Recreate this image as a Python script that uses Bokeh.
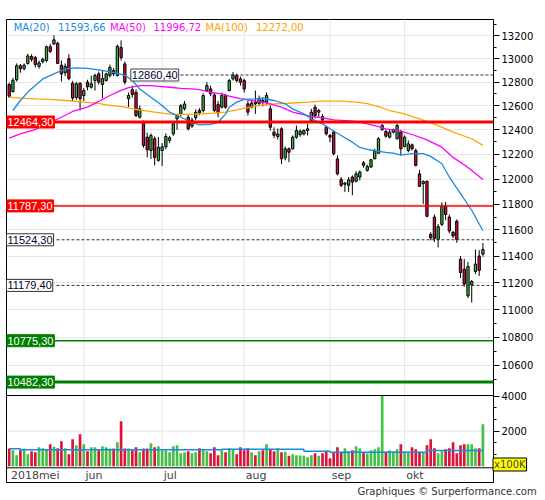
import math
from bokeh.plotting import figure
from bokeh.models import (ColumnDataSource, FixedTicker, Span, Label, Range1d,
                          LinearScale, Title, LogAxis)
from bokeh.embed import file_html
from bokeh.resources import INLINE

# ---------------- data ----------------
opens = [12780, 12720, 12820, 12940, 12915, 12960, 13020, 13010, 12935, 12975,
         12985, 13105, 13130, 13135, 12945, 12880, 13000, 12790, 12670, 12790,
         12686, 12800, 12756, 12813, 12870, 12780, 12813, 12856, 12900, 12856,
         13098, 12956, 12660, 12735, 12712, 12504, 12462, 12339, 12230, 12326,
         12150, 12230, 12260, 12312, 12366, 12491, 12530, 12574, 12504, 12430,
         12500, 12560, 12560, 12728, 12742, 12690, 12610, 12588, 12686, 12728,
         12827, 12856, 12827, 12813, 12616, 12588, 12630, 12619, 12644, 12630,
         12574, 12380, 12345, 12408, 12170, 12244, 12244, 12339, 12360, 12366,
         12394, 12477, 12588, 12546, 12510, 12421, 12353, 12380, 12162, 11997,
         11958, 11950, 12016, 11983, 12016, 12130, 12069, 12096, 12162, 12208,
         12400, 12386, 12339, 12380, 12326, 12380, 12263, 12230, 12276, 12230,
         12041, 11963, 11981, 11565, 11700, 11527, 11643, 11785, 11700, 11583,
         11668, 11376, 11301, 11102, 11183, 11283, 11400, 11415]
highs = [12795, 12835, 12960, 12955, 12960, 13045, 13040, 13025, 12985, 13010,
         13115, 13130, 13205, 13150, 12985, 12960, 13040, 12810, 12800, 12800,
         12750, 12820, 12856, 12873, 12890, 12900, 12881, 12950, 12920, 13125,
         13160, 12976, 12711, 12770, 12737, 12602, 12477, 12377, 12370, 12345,
         12340, 12290, 12370, 12350, 12470, 12530, 12615, 12640, 12530, 12500,
         12570, 12580, 12704, 12799, 12770, 12710, 12640, 12711, 12700, 12827,
         12885, 12873, 12847, 12830, 12644, 12644, 12728, 12686, 12669, 12712,
         12602, 12420, 12410, 12421, 12263, 12255, 12353, 12435, 12402, 12402,
         12449, 12574, 12610, 12574, 12532, 12435, 12366, 12394, 12190, 12016,
         11976, 12016, 12029, 12062, 12069, 12145, 12115, 12162, 12244, 12339,
         12449, 12402, 12402, 12410, 12449, 12400, 12353, 12312, 12287, 12246,
         12073, 11989, 11989, 11583, 11720, 11645, 11816, 11818, 11720, 11590,
         11681, 11400, 11378, 11355, 11220, 11450, 11445, 11500]
lows = [12665, 12710, 12805, 12880, 12900, 12950, 12975, 12925, 12915, 12960,
        12970, 13050, 13120, 12955, 12805, 12850, 12815, 12640, 12650, 12560,
        12640, 12730, 12744, 12728, 12780, 12665, 12805, 12839, 12850, 12847,
        12985, 12779, 12590, 12669, 12504, 12493, 12252, 12174, 12162, 12109,
        12140, 12105, 12240, 12290, 12350, 12400, 12510, 12560, 12395, 12415,
        12480, 12520, 12543, 12720, 12680, 12545, 12504, 12577, 12574, 12720,
        12813, 12796, 12770, 12711, 12518, 12577, 12532, 12602, 12594, 12602,
        12394, 12330, 12320, 12121, 12150, 12135, 12238, 12326, 12343, 12353,
        12353, 12462, 12493, 12504, 12462, 12353, 12298, 12190, 12029, 11936,
        11897, 11897, 11871, 11973, 11989, 12090, 12060, 12091, 12162, 12204,
        12394, 12335, 12328, 12370, 12320, 12190, 12255, 12216, 12230, 12101,
        11936, 11803, 11698, 11521, 11506, 11466, 11630, 11675, 11575, 11537,
        11501, 11235, 11170, 11085, 11052, 11265, 11250, 11395]
closes = [12680, 12815, 12940, 12915, 12945, 13025, 12995, 12950, 12965, 12995,
          13105, 13065, 13165, 12960, 12870, 12935, 12830, 12665, 12785, 12660,
          12728, 12760, 12785, 12856, 12800, 12830, 12870, 12926, 12870, 13107,
          13011, 12800, 12686, 12695, 12518, 12574, 12271, 12236, 12353, 12174,
          12256, 12260, 12345, 12334, 12449, 12518, 12600, 12615, 12408, 12480,
          12545, 12541, 12686, 12770, 12700, 12561, 12540, 12686, 12588, 12813,
          12860.4, 12813, 12799, 12742, 12546, 12621, 12616, 12661, 12627, 12686,
          12421, 12355, 12365, 12163, 12244, 12216, 12339, 12394, 12388, 12394,
          12408, 12546, 12518, 12560, 12482, 12366, 12339, 12204, 12041, 11950,
          11968, 11994, 11976, 12041, 12056, 12110, 12100, 12155, 12224, 12326,
          12435, 12347, 12380, 12400, 12435, 12244, 12339, 12284, 12244, 12109,
          11942, 11981, 11706, 11539, 11535, 11625, 11785, 11720, 11592, 11554,
          11527, 11276, 11190, 11321, 11208, 11340, 11291, 11450]
volumes = [1010, 914, 629, 914, 1010, 686, 857, 800, 1086, 1029,
           952, 1257, 1105, 1029, 1429, 1029, 686, 1543, 1200, 1829,
           1257, 857, 1086, 1086, 914, 1143, 1086, 1010, 1010, 1371,
           2571, 1010, 1010, 914, 1086, 800, 1010, 1010, 1314, 1086,
           1143, 914, 914, 800, 1143, 1200, 743, 800, 857, 743,
           800, 1029, 914, 857, 743, 1086, 629, 914, 800, 1029,
           971, 686, 1086, 914, 1029, 800, 629, 857, 914, 1257,
           952, 857, 1029, 800, 819, 590, 686, 629, 610, 590,
           514, 629, 743, 590, 743, 876, 457, 800, 1086, 800,
           1029, 857, 914, 1143, 1029, 800, 724, 914, 971, 1086,
           4019, 819, 914, 857, 971, 1257, 819, 819, 1086, 971,
           819, 800, 1200, 1543, 1029, 743, 857, 971, 1029, 1371,
           743, 1200, 1257, 1257, 1257, 1029, 1029, 2400]

month_start = [20, 41, 63, 86, 106]
month_names = ["jun", "jul", "aug", "sep", "okt"]
first_label = "2018mei"

ma20_x = [1, 3, 5, 7, 9, 12, 14, 16, 18, 21, 24, 26, 29, 31, 33, 35, 38, 41, 43, 46,
          49, 51, 54, 56, 58, 59, 61, 63, 66, 68, 71, 74, 76, 79, 81, 84, 86, 89, 92, 94,
          96, 98, 101, 103, 105, 108, 111, 113, 116, 118, 121, 124, 127]
ma20_y = [12560, 12644, 12715, 12770, 12827, 12870, 12899, 12918, 12922, 12918,
          12905, 12893, 12875, 12858, 12813, 12742, 12672, 12602, 12546, 12504,
          12462, 12441, 12444, 12462, 12530, 12588, 12630, 12653, 12658, 12663,
          12644, 12616, 12574, 12532, 12491, 12449, 12408, 12353, 12298, 12255,
          12240, 12228, 12215, 12208, 12192, 12204, 12204, 12182, 12123, 12016,
          11884, 11753, 11594]
ma50_x = [0, 3, 7, 10, 14, 17, 21, 24, 27, 30, 32, 35, 38, 41, 43, 46, 49, 51, 54, 57,
          59, 62, 66, 69, 73, 76, 80, 84, 87, 92, 94, 96, 98, 101, 105, 108, 112, 116,
          119, 123, 127]
ma50_y = [12331, 12367, 12402, 12449, 12504, 12552, 12588, 12636, 12686, 12730,
          12752, 12770, 12770, 12762, 12756, 12747, 12742, 12736, 12713, 12700,
          12680, 12660, 12638, 12624, 12588, 12546, 12518, 12499, 12482, 12471,
          12463, 12449, 12435, 12408, 12388, 12361, 12317, 12257, 12174, 12093,
          11997]
ma100_x = [0, 3, 7, 11, 16, 20, 24, 26, 29, 31, 33, 37, 41, 44, 48, 51, 55, 58, 61, 63,
           67, 71, 75, 80, 84, 89, 93, 96, 99, 102, 106, 110, 115, 119, 124, 127]
ma100_y = [12672, 12664, 12658, 12653, 12642, 12630, 12619, 12608, 12596, 12588,
           12574, 12554, 12538, 12527, 12527, 12532, 12538, 12546, 12566, 12580,
           12602, 12616, 12621, 12630, 12638, 12638, 12630, 12618, 12593, 12560,
           12532, 12491, 12435, 12380, 12326, 12272]
ma_names = ["MA(20)", "MA(50)", "MA(100)"]
ma_last = ["11593,66", "11996,72", "12272,00"]

vol_ma_x = [0, 3, 57, 79, 86, 112, 127]
vol_ma_y = [994, 937, 971, 857, 800, 897, 897]

price_ticks = [10600, 10800, 11000, 11200, 11400, 11600, 11800, 12000,
               12200, 12400, 12600, 12800, 13000, 13200]
price_tick_labels = ["10600", "10800", "11000", "11200", "11400", "11600", "11800",
                     "12000", "12200", "12400", "12600", "12800", "13000", "13200"]
price_minor = [10500, 10700, 10900, 11100, 11300, 11500, 11700, 11900,
               12100, 12300, 12500, 12700, 12900, 13100, 13300]
vol_ticks = [2000, 4000]
vol_tick_labels = ["2000", "4000"]
vol_minor = [667, 1333, 2667, 3333]
vol_unit = "x100K"
footer = "Graphiques \u00a9 Surperformance.com"

levels = [12464.30, 11787.30, 11524.30, 11179.40, 10775.30, 10482.30]
marker_level = 12860.40

# ---------------- styling / geometry ----------------
FONT = "DejaVu Sans"
LFONT = "Liberation Sans"
GRID = "#e6e6e6"
UP, DOWN = "#3cb043", "#d0103a"
VUP, VDOWN = "#44c044", "#dc143c"
C20, C50, C100 = "#1a8ae0", "#ff00ff", "#ffa500"
RED, GREEN = "#ff0000", "#008000"

LEFT_PX, TOP_PX = 6, 19
FW, FH = 487, 463
STEP, X0 = 3.73, 8.7
x_start = (LEFT_PX - X0) / STEP
x_end = x_start + FW / STEP
PX_PER_LN = 1502.0
p_top = 12464.3 * math.exp((121.5 - TOP_PX) / PX_PER_LN)
p_bot = p_top * math.exp(-FH / PX_PER_LN)
VZERO_PX, V_PER_PX = 465.7, 57.14
v_top = (VZERO_PX - TOP_PX) * V_PER_PX
v_bot = (VZERO_PX - (TOP_PX + FH)) * V_PER_PX


def xd(px):
    return x_start + (px - LEFT_PX) / STEP


def yp(py):
    return p_top * math.exp(-(py - TOP_PX) / PX_PER_LN)


def yv(py):
    return (VZERO_PX - py) * V_PER_PX


def v2p(v):
    return round(yp(VZERO_PX - v / V_PER_PX), 3)


p = figure(frame_width=FW, frame_height=FH,
           x_range=Range1d(x_start, x_end), y_range=Range1d(p_bot, p_top),
           y_axis_type="log", y_axis_location="right", x_axis_location=None,
           min_border_top=TOP_PX, min_border_bottom=18, min_border_left=LEFT_PX,
           min_border_right=50, toolbar_location=None, output_backend="svg",
           background_fill_color="white", border_fill_color="white",
           outline_line_color="black", outline_line_width=1)
p.extra_y_ranges = {"vol": Range1d(v_bot, v_top)}
p.extra_y_scales = {"vol": LinearScale()}

p.xgrid.visible = False
p.ygrid.ticker = FixedTicker(ticks=price_ticks)
p.ygrid.grid_line_color = GRID

ax = p.yaxis[0]
vt = [v2p(v) for v in vol_ticks]
ax.ticker = FixedTicker(ticks=price_ticks + vt,
                        minor_ticks=price_minor + [v2p(v) for v in vol_minor])
ov = {t: s for t, s in zip(price_ticks, price_tick_labels)}
ov.update({t: s for t, s in zip(vt, vol_tick_labels)})
ax.major_label_overrides = ov
ax.axis_line_color = "black"
ax.major_tick_line_color = "black"
ax.minor_tick_line_color = "black"
ax.major_tick_out, ax.major_tick_in = 6, 0
ax.minor_tick_out, ax.minor_tick_in = 3, 0
ax.major_label_text_font = FONT
ax.major_label_text_font_size = "10px"
ax.major_label_text_color = "black"
ax.major_label_standoff = 2

# outer box around the axis area (axis line at right edge, long inward ticks)
box_ticks = [round(yp(19.5), 3), round(yp(395), 3), round(yp(481.5), 3)]
ax2 = LogAxis(ticker=FixedTicker(ticks=box_ticks, minor_ticks=[]),
              fixed_location=xd(538.5), axis_line_color="black",
              major_tick_in=46, major_tick_out=0, major_tick_line_color="black",
              minor_tick_in=0, minor_tick_out=0,
              major_label_overrides={t: "" for t in box_ticks})
p.add_layout(ax2, "right")

n = len(closes)
up = [c >= o for o, c in zip(opens, closes)]
src = ColumnDataSource(dict(
    x=list(range(n)), h=highs, l=lows,
    top=[max(o, c) for o, c in zip(opens, closes)],
    bot=[min(o, c) for o, c in zip(opens, closes)],
    fill=[UP if u else DOWN for u in up],
    vol=volumes, vfill=[VUP if u else VDOWN for u in up]))

# vertical month grid lines (price + volume panels)
g = p.segment(x0=month_start, x1=month_start, y0=yv(467.3), y1=v_top,
              y_range_name="vol", line_color=GRID, line_width=1)
g.level = "underlay"
p.add_layout(Span(location=2000, dimension="width", y_range_name="vol",
                  line_color=GRID, line_width=1, level="underlay"))

# volume
p.vbar(x="x", width=0.72, top="vol", bottom=0, fill_color="vfill",
       line_color=None, y_range_name="vol", source=src)
p.step(vol_ma_x, vol_ma_y, mode="after", y_range_name="vol",
       line_color=C20, line_width=1.5)

# candles
p.segment(x0="x", y0="h", x1="x", y1="l", line_color="black", line_width=1, source=src)
p.vbar(x="x", width=0.62, top="top", bottom="bot", fill_color="fill",
       line_color="black", line_width=1, source=src)

# moving averages
p.line(ma100_x, ma100_y, line_color=C100, line_width=1.3)
p.line(ma50_x, ma50_y, line_color=C50, line_width=1.3)
p.line(ma20_x, ma20_y, line_color=C20, line_width=1.3)

# panel separators
p.add_layout(Span(location=yv(395), dimension="width", y_range_name="vol",
                  line_color="black", line_width=1))
p.add_layout(Span(location=yv(467.3), dimension="width", y_range_name="vol",
                  line_color="black", line_width=1))

# horizontal levels
styles = [("solid", RED, 3), ("solid", RED, 1.5), ("dash", "#333333", 1),
          ("dash", "#333333", 1), ("solid", GREEN, 1.5), ("solid", GREEN, 3)]
for lv, (kind, col, w) in zip(levels, styles):
    if kind == "solid":
        p.add_layout(Span(location=lv, dimension="width", line_color=col, line_width=w))
    else:
        p.segment(x0=[xd(56)], x1=[x_end], y0=[lv], y1=[lv], line_color=col,
                  line_width=1, line_dash="3 2")
p.segment(x0=[xd(180)], x1=[x_end], y0=[marker_level], y1=[marker_level],
          line_color="#333333", line_width=1, line_dash="3 2")


def fmt(v):
    return ("%.2f" % v).replace(".", ",")


for lv, (kind, col, w) in zip(levels, styles):
    if kind == "solid":
        lab = Label(x=x_start, y=lv, text=fmt(lv), text_color="white",
                    background_fill_color=col, border_line_color=col)
    else:
        lab = Label(x=x_start, y=lv, text=fmt(lv), text_color="#000033",
                    background_fill_color="white", border_line_color="#333333")
    lab.text_font = LFONT
    lab.text_font_size = "11px"
    lab.text_baseline = "middle"
    lab.text_align = "left"
    lab.padding = (1, 2)
    p.add_layout(lab)
p.add_layout(Label(x=xd(130.3), y=marker_level, text=fmt(marker_level),
                   text_color="#000033", background_fill_color="white",
                   border_line_color="#444444", text_font=LFONT,
                   text_font_size="11px", text_baseline="middle", padding=(1, 2)))

# legend texts
leg_px = [(13.2, 57.4), (109.5, 153.0), (205.0, 255.5)]
for name, val, col, (a, b) in zip(ma_names, ma_last, [C20, C50, C100], leg_px):
    for px, t in ((a, name), (b, val)):
        p.add_layout(Label(x=xd(px), y=yp(26.7), text=t, text_color=col,
                           text_font=FONT, text_font_size="10px",
                           text_baseline="middle"))

# date labels
p.add_layout(Label(x=xd(10.4), y=yv(474.5), y_range_name="vol", text=first_label,
                   text_font=FONT, text_font_size="11px", text_baseline="middle"))
for m, name in zip(month_start, month_names):
    p.add_layout(Label(x=m + 0.45, y=yv(474.5), y_range_name="vol", text=name,
                       text_font=FONT, text_font_size="11px", text_baseline="middle"))

# unit box, right of the frame (placed through a side panel so it is not clipped)
p.add_layout(Label(x=492.5, y=464, x_units="canvas", y_units="canvas", text=vol_unit,
                   text_font=FONT, text_font_size="10px", text_baseline="middle",
                   background_fill_color="#ffff00", border_line_color="black",
                   padding=(1, 1)), "above")

# footer
p.add_layout(Title(text=footer, align="left", offset=351, standoff=3,
                   text_font=FONT, text_font_size="10px", text_font_style="normal",
                   text_color="#333333"), "below")

open("out.html", "w").write(file_html(p, INLINE))
